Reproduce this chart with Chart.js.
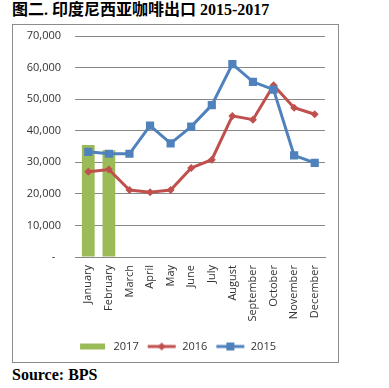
<!DOCTYPE html>
<html>
<head>
<meta charset="utf-8">
<script src="https://cdn.jsdelivr.net/npm/chart.js@4"></script>
<style>
  html, body { margin: 0; padding: 0; background: #ffffff; }
  body { width: 389px; height: 388px; position: relative; overflow: hidden; }
  #title { position: absolute; left: 12px; top: 1px; font-family: "Liberation Serif", "Noto Sans CJK SC", serif; font-weight: bold; font-size: 16px; color: #000; white-space: nowrap; line-height: 18px; }
  #box { position: absolute; left: 12px; top: 24px; width: 325px; height: 337px; border: 1px solid #8c8c8c; }
  #box canvas { display: block; }
  #source { position: absolute; left: 12px; top: 366px; font-family: "Liberation Serif", serif; font-weight: bold; font-size: 16px; color: #000; white-space: nowrap; line-height: 18px; }
</style>
</head>
<body>
<div id="title">图二. 印度尼西亚咖啡出口 2015-2017</div>
<div id="box"><canvas id="c" width="325" height="337"></canvas></div>
<div id="source">Source: BPS</div>
<script>
const categories = ['January','February','March','April','May','June','July','August','September','October','November','December'];
const exports2017 = [35500, 33800, null, null, null, null, null, null, null, null, null, null];
const exports2016 = [27000, 27700, 21200, 20500, 21200, 28200, 30800, 44700, 43500, 54400, 47300, 45200];
const exports2015 = [33300, 32700, 32700, 41600, 36000, 41300, 48100, 61100, 55500, 53000, 32200, 29800];
const seriesNames = ['2017', '2016', '2015'];
const yTicks = [0, 10000, 20000, 30000, 40000, 50000, 60000, 70000];

const GREEN = '#9BBB59', RED = '#C0504D', BLUE = '#4F81BD';
const FONT = { family: '"Open Sans", "DejaVu Sans", sans-serif', size: 11 };

function makeIcon(kind, color) {
  const cv = document.createElement('canvas');
  cv.width = 30; cv.height = 10;
  const g = cv.getContext('2d');
  if (kind === 'bar') {
    g.fillStyle = color;
    g.fillRect(2, 2, 25, 6);
  } else {
    g.strokeStyle = color; g.lineWidth = 3;
    g.beginPath(); g.moveTo(1, 5); g.lineTo(29, 5); g.stroke();
    g.fillStyle = color;
    if (kind === 'square') {
      g.fillRect(11, 1, 8, 8);
    } else {
      g.beginPath(); g.moveTo(15, 1); g.lineTo(19, 5); g.lineTo(15, 9); g.lineTo(11, 5); g.closePath(); g.fill();
    }
  }
  return cv;
}
const icons = [makeIcon('bar', GREEN), makeIcon('diamond', RED), makeIcon('square', BLUE)];

const shiftLegend = {
  id: 'shiftLegend',
  afterLayout(chart) {
    const lg = chart.legend;
    if (lg) { lg.left += 8; lg.right += 8; }
  }
};

new Chart(document.getElementById('c'), {
  data: {
    labels: categories,
    datasets: [
      { type: 'bar', label: seriesNames[0], data: exports2017, backgroundColor: GREEN, borderWidth: 0,
        barPercentage: 1.0, categoryPercentage: 0.62, order: 3 },
      { type: 'line', label: seriesNames[1], data: exports2016, borderColor: RED, backgroundColor: RED,
        borderWidth: 3, pointStyle: 'rectRot', pointRadius: 4, pointHoverRadius: 4, pointBorderWidth: 0,
        tension: 0, order: 2 },
      { type: 'line', label: seriesNames[2], data: exports2015, borderColor: BLUE, backgroundColor: BLUE,
        borderWidth: 3, pointStyle: 'rect', pointRadius: 5.8, pointHoverRadius: 5.8, pointBorderWidth: 0,
        tension: 0, order: 1 }
    ]
  },
  plugins: [shiftLegend],
  options: {
    responsive: false,
    animation: false,
    devicePixelRatio: 1,
    layout: { padding: { top: 11, right: 13, bottom: 0, left: 0 } },
    plugins: {
      tooltip: { enabled: false },
      legend: {
        position: 'bottom',
        labels: {
          usePointStyle: true,
          pointStyleWidth: 30,
          padding: 8,
          color: '#333333',
          font: FONT,
          generateLabels: (chart) => seriesNames.map((n, i) => ({
            text: n, pointStyle: icons[i], fillStyle: 'transparent', strokeStyle: 'transparent',
            lineWidth: 0, hidden: false, datasetIndex: i, fontColor: '#333333'
          }))
        }
      }
    },
    scales: {
      x: {
        grid: { display: false },
        border: { display: true, color: '#888888', width: 1 },
        ticks: { color: '#333333', font: FONT, minRotation: 90, maxRotation: 90, autoSkip: false, padding: 0 },
        afterFit: (s) => { s.height = 76; s.paddingLeft = 0; s.paddingRight = 0; s.paddingTop = 0; s.paddingBottom = 0; }
      },
      y: {
        min: 0, max: 70000,
        afterBuildTicks: (s) => { s.ticks = yTicks.map(v => ({ value: v })); },
        grid: { color: '#868686', lineWidth: 1, drawTicks: true, tickLength: 3 },
        border: { display: false },
        ticks: {
          color: '#333333', font: FONT, padding: 14,
          callback: (v) => v === 0 ? '-  ' : v.toLocaleString('en-US')
        },
        afterFit: (s) => { s.width = 65; s.paddingTop = 0; s.paddingBottom = 0; s.paddingLeft = 0; s.paddingRight = 0; }
      }
    }
  }
});
</script>
</body>
</html>
